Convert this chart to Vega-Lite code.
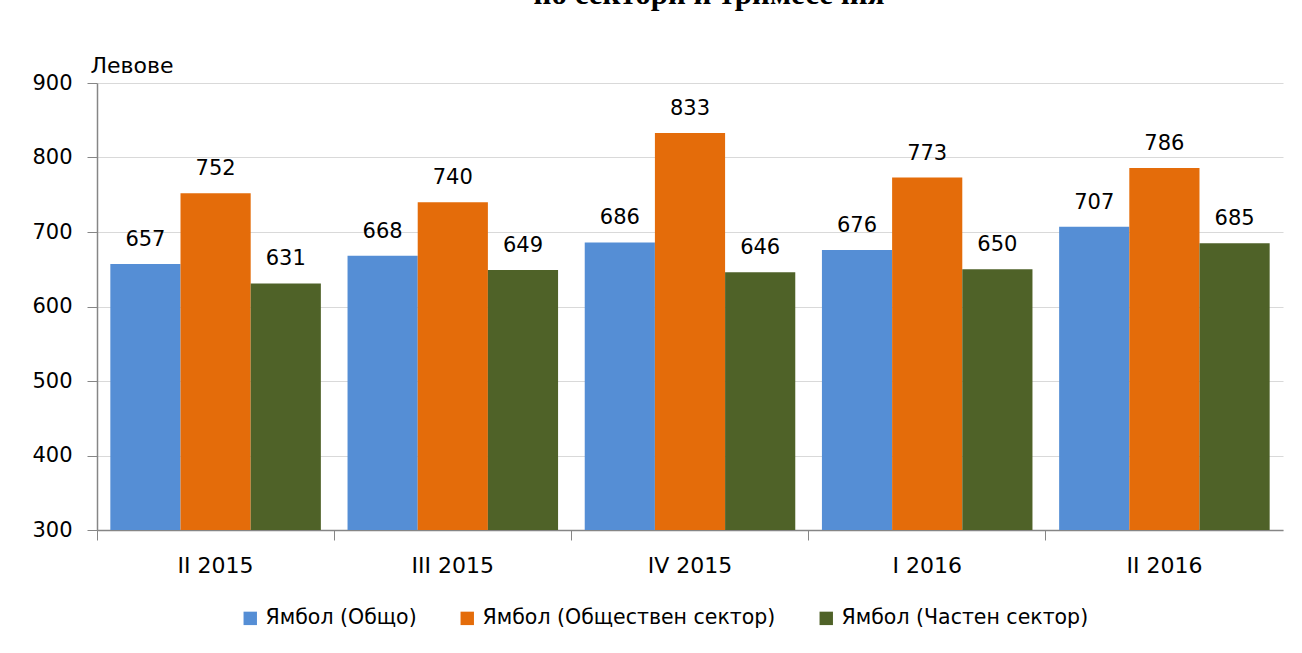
{
  "$schema": "https://vega.github.io/schema/vega-lite/v6.json",
  "autosize": "none",
  "width": 1186,
  "height": 447,
  "padding": {"left": 97, "top": 83, "right": 19, "bottom": 123},
  "background": "white",
  "title": {
    "text": "по сектори и тримесечия",
    "font": "Liberation Serif",
    "fontSize": 31,
    "fontWeight": "bold",
    "color": "#000000",
    "anchor": "middle",
    "frame": "group",
    "baseline": "bottom",
    "offset": 12,
    "dx": 19
  },
  "data": {
    "values": [
      {"q": "II 2015", "s": "Ямбол (Общо)", "v": 657},
      {"q": "II 2015", "s": "Ямбол (Обществен сектор)", "v": 752},
      {"q": "II 2015", "s": "Ямбол (Частен сектор)", "v": 631},
      {"q": "III 2015", "s": "Ямбол (Общо)", "v": 668},
      {"q": "III 2015", "s": "Ямбол (Обществен сектор)", "v": 740},
      {"q": "III 2015", "s": "Ямбол (Частен сектор)", "v": 649},
      {"q": "IV 2015", "s": "Ямбол (Общо)", "v": 686},
      {"q": "IV 2015", "s": "Ямбол (Обществен сектор)", "v": 833},
      {"q": "IV 2015", "s": "Ямбол (Частен сектор)", "v": 646},
      {"q": "I 2016", "s": "Ямбол (Общо)", "v": 676},
      {"q": "I 2016", "s": "Ямбол (Обществен сектор)", "v": 773},
      {"q": "I 2016", "s": "Ямбол (Частен сектор)", "v": 650},
      {"q": "II  2016", "s": "Ямбол (Общо)", "v": 707},
      {"q": "II  2016", "s": "Ямбол (Обществен сектор)", "v": 786},
      {"q": "II  2016", "s": "Ямбол (Частен сектор)", "v": 685}
    ]
  },
  "encoding": {
    "x": {
      "field": "q",
      "type": "nominal",
      "sort": null,
      "scale": {"paddingInner": 0, "paddingOuter": 0},
      "axis": {
        "title": null,
        "labelAngle": 0,
        "labelFont": "DejaVu Sans",
        "labelFontSize": 22,
        "labelColor": "#000000",
        "labelPadding": 15,
        "bandPosition": 0,
        "tickSize": 10,
        "tickColor": "#868686",
        "domainColor": "#868686",
        "domainWidth": 1.5,
        "grid": false
      }
    },
    "xOffset": {
      "field": "s",
      "type": "nominal",
      "sort": null,
      "scale": {"paddingInner": 0, "paddingOuter": 0.19}
    },
    "y": {
      "field": "v",
      "type": "quantitative",
      "scale": {"domain": [300, 900], "nice": false, "zero": false},
      "axis": {
        "title": "Левове",
        "titleAngle": 0,
        "titleAlign": "left",
        "titleBaseline": "middle",
        "titleX": -7,
        "titleY": -18,
        "titleFont": "DejaVu Sans",
        "titleFontSize": 22,
        "titleFontWeight": "normal",
        "titleColor": "#000000",
        "values": [300, 400, 500, 600, 700, 800, 900],
        "labelFont": "DejaVu Sans",
        "labelFontSize": 21,
        "labelColor": "#000000",
        "labelPadding": 15,
        "tickSize": 10,
        "tickColor": "#868686",
        "domainColor": "#868686",
        "domainWidth": 1.5,
        "gridColor": "#d9d9d9",
        "gridWidth": 1.2
      }
    }
  },
  "layer": [
    {
      "mark": {"type": "bar"},
      "encoding": {
        "y2": {"datum": 300},
        "color": {
          "field": "s",
          "type": "nominal",
          "sort": null,
          "scale": {
            "domain": ["Ямбол (Общо)", "Ямбол (Обществен сектор)", "Ямбол (Частен сектор)"],
            "range": ["#558ED5", "#E46C0A", "#4F6228"]
          },
          "legend": {
            "title": null,
            "orient": "none",
            "direction": "horizontal",
            "legendX": 143,
            "legendY": 525,
            "symbolType": "square",
            "symbolSize": 180,
            "symbolStrokeWidth": 0,
            "labelFont": "DejaVu Sans",
            "labelFontSize": 20.5,
            "labelColor": "#000000",
            "labelOffset": 5,
            "columnPadding": 40,
            "labelLimit": 400
          }
        }
      }
    },
    {
      "mark": {"type": "text", "baseline": "bottom", "dy": -14, "font": "DejaVu Sans", "fontSize": 21, "color": "#000000"},
      "encoding": {
        "text": {"field": "v", "type": "quantitative"}
      }
    }
  ],
  "config": {
    "view": {"stroke": null}
  }
}
